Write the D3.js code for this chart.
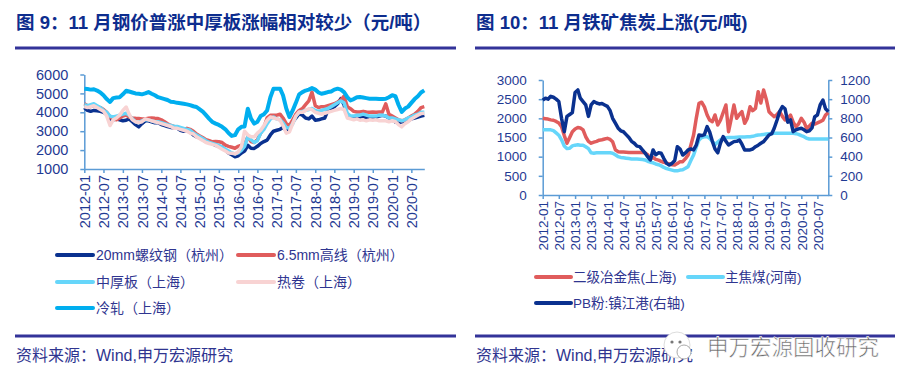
<!DOCTYPE html>
<html><head><meta charset="utf-8">
<script src="https://cdn.jsdelivr.net/npm/d3@7"></script>
<style>
html,body{margin:0;padding:0;background:#fff;}
svg{display:block;font-family:"Liberation Sans","Noto Sans CJK SC",sans-serif;}
</style></head>
<body><svg id="c" width="912" height="387"></svg>
<script>
// ---------- DATA ----------
const startMonth = "2012-01";   // monthly observations, 2012-01 .. 2020-11
const tickLabelsStep = 6;       // x tick every 6 months
const leftTicks = [1000, 2000, 3000, 4000, 5000, 6000];
const rightLeftTicks = [0, 500, 1000, 1500, 2000, 2500, 3000];
const rightRightTicks = [0, 200, 400, 600, 800, 1000, 1200];

const steelNames = ["20mm螺纹钢（杭州）", "6.5mm高线（杭州）", "中厚板（上海）", "热卷（上海）", "冷轧（上海）"];
const rebar = [4250,4100,4050,4100,4080,4050,4000,3900,3650,3600,3650,3600,
 3550,3580,3650,3500,3350,3230,3400,3550,3550,3500,3450,3450,
 3350,3300,3250,3200,3180,3150,3050,3000,3050,2950,2800,2700,
 2650,2550,2450,2400,2350,2250,2200,2150,2000,1850,1750,1650,
 1700,1850,1950,2250,2100,2090,2200,2350,2450,2530,2800,3000,
 3050,3100,3200,3050,3140,3490,3700,3930,3850,3700,3650,3800,
 3580,3600,3650,3700,4100,4200,4300,4450,4720,4400,3800,3700,
 3750,3800,3750,3800,3700,3750,3750,3750,3800,3840,3800,3700,
 3600,3490,3450,3500,3500,3550,3650,3700,3750,3800,3840];
const wireRod = [4450,4350,4300,4350,4300,4250,4150,4000,3750,3650,3600,3700,
 3800,3850,3750,3700,3680,3670,3650,3650,3680,3700,3680,3670,
 3600,3500,3400,3300,3250,3200,3150,3100,3150,3100,3000,2850,
 2750,2650,2550,2500,2440,2450,2440,2400,2260,2200,2150,2100,
 2200,2260,2300,2700,2450,2400,2550,2900,3200,3700,3840,3850,
 3850,3900,3700,3400,3300,3600,3900,4100,4200,4400,4600,5070,
 4350,4250,4300,4300,4350,4400,4450,4540,4650,4850,4300,4190,
 4050,4020,4020,4050,4020,4000,4020,4000,4020,4020,4450,3900,
 3800,3700,3600,3550,3600,3700,3800,3900,4050,4250,4300];
const plate = [4400,4350,4400,4450,4350,4250,4100,4000,3800,3750,3800,3850,
 3900,3950,3850,3650,3500,3450,3550,3600,3600,3550,3500,3500,
 3450,3400,3350,3300,3250,3250,3200,3150,3100,3050,2900,2800,
 2700,2600,2500,2400,2350,2300,2250,2150,2050,1950,1850,1800,
 1850,2000,2200,2700,2550,2400,2500,2900,3100,3400,3650,3750,
 3650,3600,3450,3200,3150,3400,3800,4000,4050,4100,4150,4200,
 4100,4050,4100,4150,4200,4300,4400,4500,4600,4500,3950,3800,
 3800,3850,3850,3900,3850,3800,3800,3800,3850,3850,3800,3700,
 3700,3650,3600,3550,3600,3700,3750,3850,3900,4000,4000];
const hotRoll = [4300,4250,4300,4350,4250,4150,4050,3800,3300,3600,3700,3850,
 4100,4280,3900,3600,3500,3450,3500,3650,3600,3550,3500,3450,
 3400,3350,3300,3250,3150,3150,3100,3050,3000,2900,2850,2700,
 2600,2500,2400,2350,2300,2250,2150,2050,1950,1850,1830,1800,
 1900,2200,3000,2800,2700,2700,2900,3050,3300,3580,3750,3700,
 3650,3580,3300,2900,2970,3400,3800,4020,4000,4100,4190,4150,
 4000,3950,3900,3950,4000,4050,4100,4150,4200,4150,3700,3650,
 3600,3650,3580,3600,3550,3600,3580,3600,3550,3550,3550,3500,
 3550,3500,3350,3230,3400,3500,3650,3750,3850,3930,3950];
const coldRoll = [5250,5230,5200,5220,5150,5050,4900,4700,4550,4750,4780,4800,
 4950,5140,5100,5050,5000,4980,4950,5000,5070,4980,4900,4800,
 4750,4700,4650,4560,4540,4500,4480,4450,4420,4380,4320,4280,
 4150,4020,3850,3650,3490,3400,3330,3230,3100,2900,2750,2790,
 3100,3230,3250,4190,3670,3400,3500,3800,3900,4100,4800,5250,
 5250,5250,4900,4200,3750,4100,4500,4950,5070,5150,5200,5280,
 5200,5050,4980,5020,5070,5100,5200,5250,5200,5070,4800,4630,
 4700,4800,4810,4780,4750,4720,4720,4720,4700,4700,4720,4800,
 4900,4850,4400,4020,4200,4300,4500,4700,4850,5050,5160];

const rawNames = ["二级冶金焦(上海)", "主焦煤(河南)", "PB粉:镇江港(右轴)"];
const coke = [2000,1990,1980,1960,1950,1920,1880,1780,1550,1350,1500,1650,
 1720,1760,1750,1700,1520,1400,1350,1380,1400,1430,1440,1460,
 1478,1450,1390,1180,1130,1120,1120,1115,1110,1110,1110,1110,
 1110,1110,1100,1050,960,980,930,910,880,850,830,810,
 790,783,820,870,870,950,1043,1300,1565,2000,2391,2420,
 2300,2087,1957,1913,2087,1826,1950,2150,2348,1652,2000,2348,
 2000,2100,2174,1870,2000,2304,2200,2260,2696,2400,2739,2500,
 2174,2100,2043,2100,2174,2050,1957,2000,2087,1900,1783,1850,
 2000,1900,1739,1800,1870,1850,1880,1913,1950,2087,2150];
const cokingCoal = [1700,1700,1700,1700,1680,1620,1560,1440,1280,1210,1220,1280,
 1300,1310,1300,1300,1260,1210,1100,1090,1100,1100,1100,1100,
 1100,1100,1090,1050,1000,980,970,960,950,940,940,940,
 935,925,915,880,855,840,810,790,760,720,690,670,
 650,630,630,650,660,700,740,900,1043,1250,1435,1500,
 1520,1522,1480,1400,1310,1380,1435,1480,1496,1500,1500,1500,
 1505,1510,1510,1515,1520,1522,1530,1550,1565,1570,1580,1590,
 1600,1605,1609,1609,1609,1609,1609,1609,1609,1609,1600,1580,
 1548,1520,1480,1461,1461,1461,1461,1461,1461,1461,1461];
const pbFines = [990,1010,1000,1030,1020,1000,975,800,660,820,840,860,
 1070,1096,1010,975,940,820,940,975,960,950,955,940,
 925,880,800,750,700,670,660,630,600,560,540,510,
 505,470,440,400,365,470,420,440,435,380,330,313,
 330,360,504,480,417,440,470,480,470,520,626,620,
 630,713,660,560,480,440,540,609,560,522,540,557,
 560,574,530,470,470,470,480,504,520,540,557,590,
 626,640,696,780,870,922,900,760,783,661,680,690,
 696,680,661,670,700,817,835,940,991,900,870];

// ---------- STYLE ----------
const tickColor = "#1f3a93", axisColor = "#5b9bd5", frameColor = "#333399", textColor = "#2f3590";
const steelColors = ["#0a318f", "#e05c5c", "#66d6fa", "#f8d3d3", "#00aeef"];
const rawColors = ["#e05c5c", "#66d6fa", "#0a318f"];

const parseM = d3.timeParse("%Y-%m");
const start = parseM(startMonth);
const dates = d3.range(rebar.length).map(i => d3.timeMonth.offset(start, i));
const endDate = dates[dates.length - 1];
const fmt = d3.timeFormat("%Y-%m");
const numFmt = d3.format("d");
const xTicks = d3.timeMonth.every(tickLabelsStep).range(start, d3.timeMonth.offset(endDate, 1));

const svg = d3.select("#c");

// frame lines & titles
function frame(x0, x1, tx, title) {
  svg.append("line").attr("x1", x0).attr("x2", x1).attr("y1", 48).attr("y2", 48)
    .attr("stroke", frameColor).attr("stroke-width", 3);
  svg.append("line").attr("x1", x0).attr("x2", x1).attr("y1", 336).attr("y2", 336)
    .attr("stroke", frameColor).attr("stroke-width", 3);
  svg.append("text").attr("x", tx).attr("y", 29).text(title)
    .attr("font-size", 18.5).attr("font-weight", "bold").attr("fill", "#0d2d8e");
  svg.append("text").attr("x", tx).attr("y", 361).text("资料来源：Wind,申万宏源研究")
    .attr("font-size", 16).attr("fill", textColor);
}
frame(15, 456, 16, "图 9：11 月钢价普涨中厚板涨幅相对较少（元/吨）");
frame(475, 895, 476, "图 10：11 月铁矿焦炭上涨(元/吨)");

function styleAxis(g, fs) {
  g.selectAll(".domain").attr("stroke", axisColor).attr("stroke-width", 1.5);
  g.selectAll(".tick line").attr("stroke", axisColor).attr("stroke-width", 1.5);
  g.selectAll("text").attr("fill", tickColor).attr("font-size", fs)
    .attr("font-family", "Liberation Sans, sans-serif");
}

function xAxis(x, yPos, fs) {
  const g = svg.append("g").attr("transform", `translate(0,${yPos})`)
    .call(d3.axisBottom(x).tickValues(xTicks).tickFormat(fmt).tickSize(4).tickSizeOuter(0));
  g.selectAll("text").attr("transform", "rotate(-90)").attr("text-anchor", "end")
    .attr("x", -6).attr("y", 0).attr("dy", "0.35em");
  styleAxis(g, fs);
}

// ---------- LEFT CHART ----------
const xL = d3.scaleTime().domain([start, endDate]).range([84.3, 424.3]);
const yL = d3.scaleLinear().domain([1000, 6000]).range([169, 74.5]);
{
  const g = svg.append("g").attr("transform", "translate(84.3,0)")
    .call(d3.axisLeft(yL).tickValues(leftTicks).tickFormat(numFmt).tickSize(4).tickPadding(12).tickSizeOuter(0));
  styleAxis(g, 14.5);
  xAxis(xL, 169, 14.5);
  const series = [rebar, wireRod, plate, hotRoll, coldRoll];
  const line = d3.line().x((d, i) => xL(dates[i])).y(d => yL(d));
  series.forEach((s, k) => {
    svg.append("path").datum(s).attr("d", line).attr("fill", "none")
      .attr("stroke", steelColors[k]).attr("stroke-width", k === 4 ? 4 : 3.5)
      .attr("stroke-linejoin", "round");
  });
  const pos = [[57, 255], [238, 255], [57, 282], [238, 282], [57, 308]];
  steelNames.forEach((n, k) => {
    const [lx, ly] = pos[k];
    svg.append("line").attr("x1", lx).attr("x2", lx + 36).attr("y1", ly).attr("y2", ly)
      .attr("stroke", steelColors[k]).attr("stroke-width", 4).attr("stroke-linecap", "round");
    svg.append("text").attr("x", lx + 39).attr("y", ly).attr("dy", "0.35em").text(n)
      .attr("font-size", 14).attr("fill", textColor);
  });
}

// ---------- RIGHT CHART ----------
const xR = d3.scaleTime().domain([start, endDate]).range([542.7, 828.3]);
const yR1 = d3.scaleLinear().domain([0, 3000]).range([195, 80]);
const yR2 = d3.scaleLinear().domain([0, 1200]).range([195, 80]);
{
  const gl = svg.append("g").attr("transform", "translate(542.7,0)")
    .call(d3.axisLeft(yR1).tickValues(rightLeftTicks).tickFormat(numFmt).tickSize(4).tickPadding(12).tickSizeOuter(0));
  styleAxis(gl, 13.5);
  const gr = svg.append("g").attr("transform", "translate(828.3,0)")
    .call(d3.axisRight(yR2).tickValues(rightRightTicks).tickFormat(numFmt).tickSize(4).tickPadding(8).tickSizeOuter(0));
  styleAxis(gr, 13.5);
  xAxis(xR, 195, 13.5);
  const l1 = d3.line().x((d, i) => xR(dates[i])).y(d => yR1(d));
  const l2 = d3.line().x((d, i) => xR(dates[i])).y(d => yR2(d));
  [[coke, l1], [cokingCoal, l1], [pbFines, l2]].forEach(([s, ln], k) => {
    svg.append("path").datum(s).attr("d", ln).attr("fill", "none")
      .attr("stroke", rawColors[k]).attr("stroke-width", 3.5).attr("stroke-linejoin", "round");
  });
  const pos = [[536, 277], [688, 277], [536, 303]];
  rawNames.forEach((n, k) => {
    const [lx, ly] = pos[k];
    svg.append("line").attr("x1", lx).attr("x2", lx + 35).attr("y1", ly).attr("y2", ly)
      .attr("stroke", rawColors[k]).attr("stroke-width", 4).attr("stroke-linecap", "round");
    svg.append("text").attr("x", lx + 37).attr("y", ly).attr("dy", "0.35em").text(n)
      .attr("font-size", 13.5).attr("fill", textColor);
  });
}

// ---------- WATERMARK ----------
{
  const wm = svg.append("g");
  wm.append("circle").attr("cx", 677).attr("cy", 345).attr("r", 13)
    .attr("fill", "#fff").attr("stroke", "#ddd").attr("stroke-width", 1);
  wm.append("circle").attr("cx", 672).attr("cy", 342).attr("r", 1.6).attr("fill", "#777");
  wm.append("circle").attr("cx", 680).attr("cy", 342).attr("r", 1.6).attr("fill", "#777");
  wm.append("circle").attr("cx", 684).attr("cy", 352).attr("r", 7)
    .attr("fill", "#fff").attr("stroke", "#aaa").attr("stroke-width", 1);
  wm.append("text").attr("x", 707).attr("y", 355).text("申万宏源固收研究")
    .attr("font-size", 21.5).attr("fill", "#666").attr("stroke", "#fff")
    .attr("stroke-width", 0.6).attr("font-family", "Noto Sans CJK SC, sans-serif");
}
</script></body></html>
